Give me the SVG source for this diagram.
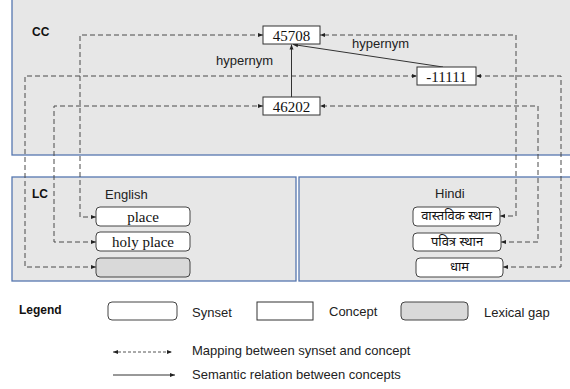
<svg xmlns="http://www.w3.org/2000/svg" width="570" height="389" viewBox="0 0 570 389">
<style>
.panel{fill:#e7e7e7;stroke:#5677b0;stroke-width:1.3}
.concept{fill:#fff;stroke:#333;stroke-width:1}
.synset{fill:#fff;stroke:#444;stroke-width:1}
.gap{fill:#d9d9d9;stroke:#444;stroke-width:1}
.map{fill:none;stroke:#4a4a4a;stroke-width:1;stroke-dasharray:5,3;marker-start:url(#ah);marker-end:url(#ah)}
.rel{fill:none;stroke:#333;stroke-width:1;marker-end:url(#ah)}
.num{font-family:"Liberation Serif",serif;font-size:15px;fill:#111;text-anchor:middle;dominant-baseline:central}
.hi{font-family:"Noto Sans Devanagari","Lohit Devanagari","Noto Sans",sans-serif;font-size:13px;fill:#111;text-anchor:middle;dominant-baseline:central}
.lbl{font-family:"Liberation Sans",Arial,sans-serif;font-size:13px;fill:#222;dominant-baseline:central}
.bold{font-family:"Liberation Sans",Arial,sans-serif;font-size:12px;font-weight:bold;fill:#111;dominant-baseline:central}
</style>
<defs>
<marker id="ah" viewBox="0 0 10 10" refX="10" refY="5" markerWidth="5" markerHeight="5" markerUnits="userSpaceOnUse" orient="auto-start-reverse">
<path d="M0,1 L10,5 L0,9 z" fill="#222"/>
</marker>
</defs>
<rect width="570" height="389" fill="#fff"/>
<g id="panels">
<rect id="cc-panel" class="panel" x="12" y="-5" width="570" height="160"/>
<rect id="lc-english" class="panel" x="12" y="177" width="284" height="104"/>
<rect id="lc-hindi" class="panel" x="299" y="177" width="280" height="104"/>
<text class="bold" x="32" y="32">CC</text>
<text class="bold" x="32" y="194">LC</text>
<text class="lbl" x="105" y="194">English</text>
<text class="lbl" x="435" y="193">Hindi</text>
</g>
<g id="connectors">
<path class="map" d="M96,217 H80 V35 H263"/>
<path class="map" d="M500,216 H516 V35 H320"/>
<path class="map" d="M96,267 H25 V76 H417"/>
<path class="map" d="M503,267 H561 V76 H476"/>
<path class="map" d="M96,242 H54 V106 H263"/>
<path class="map" d="M501,242 H538 V106 H320"/>
<path class="rel" d="M291.5,97 V44.5"/>
<path class="rel" d="M443,67 L293,44.5"/>
<text class="lbl" x="216" y="60">hypernym</text>
<text class="lbl" x="352" y="43">hypernym</text>
</g>
<g id="c45708"><rect class="concept" x="263" y="26" width="57" height="18"/><text class="num" x="291.5" y="35.5">45708</text></g>
<g id="c11111"><rect class="concept" x="417" y="67" width="59" height="18"/><text class="num" x="446.5" y="76.5">-11111</text></g>
<g id="c46202"><rect class="concept" x="263" y="97" width="57" height="18"/><text class="num" x="291.5" y="106.5">46202</text></g>
<g id="s-place"><rect class="synset" x="96" y="207" width="94" height="19" rx="4"/><text class="num" x="143" y="216.5">place</text></g>
<g id="s-holyplace"><rect class="synset" x="96" y="232" width="94" height="19" rx="4"/><text class="num" x="143" y="241.5">holy place</text></g>
<g id="s-gap"><rect class="gap" x="96" y="258" width="94" height="19" rx="4"/></g>
<g id="s-vastavik"><rect class="synset" x="413" y="207" width="87" height="19" rx="4"/><text class="hi" x="456.5" y="216.5">वास्तविक स्थान</text></g>
<g id="s-pavitra"><rect class="synset" x="413" y="233" width="88" height="18" rx="4"/><text class="hi" x="457" y="242">पवित्र स्थान</text></g>
<g id="s-dham"><rect class="synset" x="416" y="258" width="87" height="19" rx="4"/><text class="hi" x="459.5" y="267.5">धाम</text></g>
<g id="legend">
<text class="bold" x="19" y="310">Legend</text>
<rect class="synset" x="108" y="302" width="69" height="18" rx="4"/>
<text class="lbl" x="192" y="312">Synset</text>
<rect class="concept" x="257" y="302" width="56" height="18"/>
<text class="lbl" x="329" y="311">Concept</text>
<rect class="gap" x="401" y="302" width="67" height="18" rx="4"/>
<text class="lbl" x="484" y="312">Lexical gap</text>
<path d="M113,352 H172" fill="none" stroke="#555" stroke-width="1" stroke-dasharray="3,2" marker-start="url(#ah)" marker-end="url(#ah)"/>
<text class="lbl" x="192" y="350">Mapping between synset and concept</text>
<path class="rel" d="M113,375 H175"/>
<text class="lbl" x="192" y="374">Semantic relation between concepts</text>
</g>
</svg>
